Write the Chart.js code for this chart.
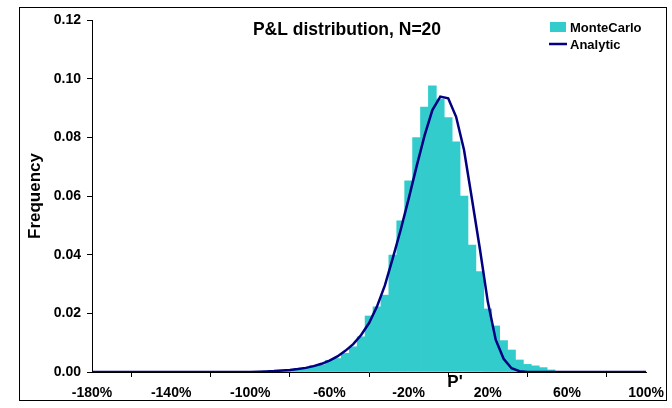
<!DOCTYPE html>
<html lang="en">
<head>
    <meta charset="UTF-8">
    <title>P&amp;L distribution</title>
    <script src="https://cdn.jsdelivr.net/npm/chart.js"></script>
    <style>
        html, body { margin: 0; padding: 0; background: #fff; }
        #wrap { width: 672px; height: 408px; }
    </style>
</head>
<body>
<div id="wrap"><canvas id="plChart" width="672" height="408"></canvas></div>

<script>
    // Monte Carlo histogram (bin centre in %, frequency)
    const binCenters = [-92, -88, -84, -80, -76, -72, -68, -64, -60, -56, -52, -48, -44, -40, -36, -32, -28, -24,
        -20, -16, -12, -8, -4, 0, 4, 8, 12, 16, 20, 24, 28, 32, 36, 40, 44, 48, 52];
    const mcFreq = [0.0003, 0.0004, 0.0006, 0.0008, 0.0011, 0.0013, 0.0022, 0.0025, 0.0040, 0.0046, 0.0064, 0.0086,
        0.0120, 0.0191, 0.0222, 0.0262, 0.0399, 0.0515, 0.0652, 0.0799, 0.0903, 0.0976, 0.0930, 0.0867, 0.0785,
        0.0600, 0.0433, 0.0342, 0.0215, 0.0157, 0.0107, 0.0075, 0.0041, 0.0026, 0.0021, 0.0015, 0.0007];

    // Analytic density
    const lineX = [-180, -100, -96, -92, -88, -84, -80, -76, -72, -68, -64, -60, -56, -52, -48, -44, -40, -36, -32,
        -28, -24, -20, -16, -12, -8, -4, 0, 4, 8, 12, 16, 20, 24, 28, 32, 36, 40, 100];
    const lineY = [0, 0, 0.0001, 0.0002, 0.0003, 0.0005, 0.0007, 0.0010, 0.0014, 0.0020, 0.0028, 0.0039, 0.0053,
        0.0072, 0.0095, 0.0126, 0.0167, 0.0223, 0.0295, 0.0388, 0.0485, 0.0590, 0.0700, 0.0805, 0.0893, 0.0939,
        0.0933, 0.0870, 0.0757, 0.0590, 0.0420, 0.0240, 0.0110, 0.0045, 0.0013, 0.0003, 0, 0];

    const xTicks = [-180, -140, -100, -60, -20, 20, 60, 100];

    const FONT = '"Liberation Sans", Arial, sans-serif';
    const CYAN = '#33CCCC';
    const NAVY = '#000080';

    // frame, title, axis titles and legend drawn on top
    const decorations = {
        id: 'decorations',
        afterDraw(chart) {
            const ctx = chart.ctx;
            ctx.save();
            ctx.strokeStyle = '#000';
            ctx.lineWidth = 1;
            ctx.strokeRect(19.5, 7.5, 647, 393);

            ctx.fillStyle = '#000';
            ctx.font = 'bold 17.5px ' + FONT;
            ctx.textAlign = 'center';
            ctx.textBaseline = 'middle';
            ctx.fillText('P&L distribution, N=20', 347, 30);

            ctx.font = 'bold 17px ' + FONT;
            ctx.fillText("P'", 455, 382);

            ctx.save();
            ctx.translate(35, 196);
            ctx.rotate(-Math.PI / 2);
            ctx.fillText('Frequency', 0, 0);
            ctx.restore();

            // legend
            ctx.font = 'bold 13px ' + FONT;
            ctx.textAlign = 'left';
            ctx.fillStyle = CYAN;
            ctx.fillRect(550, 22, 16, 10);
            ctx.strokeStyle = NAVY;
            ctx.lineWidth = 2.5;
            ctx.beginPath();
            ctx.moveTo(549, 44);
            ctx.lineTo(567, 44);
            ctx.stroke();
            ctx.fillStyle = '#000';
            ctx.fillText('MonteCarlo', 570, 28);
            ctx.fillText('Analytic', 570, 45);
            ctx.restore();
        }
    };

    new Chart(document.getElementById('plChart'), {
        type: 'bar',
        data: {
            datasets: [
                {
                    type: 'line',
                    label: 'Analytic',
                    data: lineX.map((x, i) => ({ x: x, y: lineY[i] })),
                    borderColor: NAVY,
                    borderWidth: 2.5,
                    pointRadius: 0,
                    tension: 0,
                    fill: false,
                    order: 1
                },
                {
                    label: 'MonteCarlo',
                    data: binCenters.map((x, i) => ({ x: x, y: mcFreq[i] })),
                    backgroundColor: CYAN,
                    borderWidth: 0,
                    barPercentage: 1,
                    categoryPercentage: 1,
                    order: 2
                }
            ]
        },
        options: {
            responsive: false,
            animation: false,
            layout: { padding: { left: 0, top: 20, right: 20, bottom: 0 } },
            plugins: {
                legend: { display: false },
                title: { display: false },
                tooltip: { enabled: false }
            },
            scales: {
                x: {
                    type: 'linear',
                    min: -180,
                    max: 100,
                    offset: false,
                    afterFit: s => { s.height = 36; },
                    afterBuildTicks: s => { s.ticks = xTicks.map(v => ({ value: v })); },
                    grid: { display: true, drawOnChartArea: false, drawTicks: true, tickLength: 5, color: '#000' },
                    border: { color: '#000', width: 1 },
                    ticks: {
                        color: '#000',
                        padding: 8,
                        maxRotation: 0,
                        font: { family: FONT, size: 14, weight: 'bold' },
                        callback: v => v + '%'
                    }
                },
                y: {
                    min: 0,
                    max: 0.12,
                    afterFit: s => { s.width = 92; },
                    grid: { display: true, drawOnChartArea: false, drawTicks: true, tickLength: 5, color: '#000' },
                    border: { color: '#000', width: 1 },
                    ticks: {
                        stepSize: 0.02,
                        color: '#000',
                        padding: 6,
                        font: { family: FONT, size: 14, weight: 'bold' },
                        callback: v => v.toFixed(2)
                    }
                }
            }
        },
        plugins: [decorations]
    });
</script>
</body>
</html>
